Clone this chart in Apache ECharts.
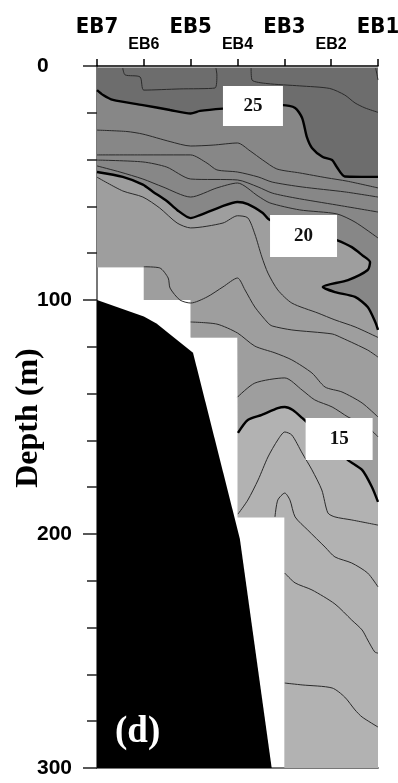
<!DOCTYPE html>
<html>
<head>
<meta charset="utf-8">
<script src="https://cdn.jsdelivr.net/npm/echarts@6/dist/echarts.min.js"></script>
<style>
  html, body { margin: 0; padding: 0; background: #fff; }
  #chart { width: 398px; height: 783px; }
</style>
</head>
<body>
<div id="chart"></div>
<script>
// stations along the section (x = station index), depth in metres
const stations = ['EB7', 'EB6', 'EB5', 'EB4', 'EB3', 'EB2', 'EB1'];

// where observations exist (stepped by station) and the sea floor
const dataRegion = [[0, 0.8], [6, 0.8], [6, 300], [4, 300], [4, 193], [3, 193], [3, 116], [2, 116], [2, 100], [1, 100], [1, 86], [0, 86]];
const seaFloor = [[0, 100], [1, 107], [1.27, 110], [2.05, 122.5], [3.05, 202], [3.73, 300], [0, 300]];

const c26a = [[0.55, 0.9], [0.6, 3.8], [0.92, 4.7], [1.0, 10.3], [1.77, 9.8], [2.52, 9.4], [2.56, 3.8], [2.54, 0.9]];
const c26b = [[3.29, 0.9], [3.31, 6.0], [3.63, 7.5], [4.33, 8.5], [4.97, 9.6], [5.29, 12.4], [5.51, 15.8], [5.72, 17.9], [6.0, 19.8]];
const c26c = [[5.95, 0.9], [5.98, 3.8], [6.0, 6.0]];
const c25 = [[0, 10.3], [0.13, 12.4], [0.34, 14.5], [0.98, 16.7], [1.56, 18.8], [2.0, 20.3], [2.2, 19.2], [2.69, 18.2], [3.3, 17.5], [3.97, 16.7], [4.23, 17.9], [4.38, 22.2], [4.48, 30.3], [4.59, 35], [4.82, 38.9], [5.02, 40.2], [5.12, 43.2], [5.29, 47.2], [6.0, 47.4]];
const c24 = [[0, 27.4], [0.64, 28], [0.98, 29.1], [1.56, 32.3], [2.0, 34.2], [2.48, 33.8], [3.0, 32.9], [3.27, 36.3], [3.54, 40.2], [3.84, 44], [4.33, 45.7], [4.91, 47.8], [5.34, 49.2], [6.0, 52.1]];
const c23 = [[0, 38], [0.98, 38], [2.0, 38], [2.35, 41.5], [2.56, 44.4], [3.0, 45.3], [3.44, 47.4], [3.74, 49.6], [4.38, 51.7], [5.29, 53.8], [6.0, 56]];
const c22 = [[0, 40.2], [0.98, 41], [1.49, 43.2], [2.0, 48.3], [3.0, 48.7], [3.44, 51.7], [3.74, 54.3], [4.23, 56.4], [5.12, 59.4], [6.0, 62.4]];
const c21 = [[0, 42.7], [0.49, 45.3], [0.98, 48.3], [1.41, 51.7], [2.0, 56], [2.56, 52.1], [3.0, 50], [3.44, 55.6], [3.69, 58.5], [4.33, 61.5], [5.12, 63.2], [5.51, 66.7], [6.0, 73.5]];
const c20 = [[0, 45.3], [0.55, 47.4], [0.98, 50.7], [1.2, 53.8], [1.49, 57.7], [1.71, 61.5], [2.0, 65], [2.2, 63.7], [2.63, 60.3], [3.0, 58.1], [3.22, 59], [3.54, 62.8], [3.69, 65.8], [4.4, 69.2], [5.12, 74.4], [5.44, 77.4], [5.66, 80.8], [5.83, 83.8], [5.78, 87.2], [5.36, 91.5], [4.82, 94.4], [5.08, 96.6], [5.51, 98.7], [5.78, 103], [5.95, 109.8], [6.0, 112.8]];
const c19 = [[0, 47.5], [0.55, 53.4], [0.98, 56], [1.34, 60.7], [1.71, 67.1], [2.0, 69.2], [2.69, 67.1], [3.0, 64], [3.22, 64.9], [3.37, 71.8], [3.52, 81.6], [3.65, 88.5], [3.86, 95.7], [4.16, 101.3], [4.72, 105.6], [5.08, 108.5], [5.51, 111.5], [6.0, 116]];
const c18 = [[1.0, 85.8], [1.34, 86.3], [1.52, 90.6], [1.56, 94.9], [1.77, 100], [2.0, 101.3], [2.35, 98.7], [2.69, 94.4], [3.0, 90.6], [3.16, 95.7], [3.37, 103], [3.65, 109.8], [3.74, 111.1], [4.16, 112.8], [5.02, 114.5], [5.23, 116.2], [5.78, 121.4], [6.0, 124.4]];
const c17 = [[2.0, 109.4], [2.56, 110.3], [3.0, 114.1], [3.37, 119.7], [3.8, 122.6], [4.16, 125.6], [4.59, 131.2], [4.87, 137.2], [5.23, 139.3], [5.66, 144], [6.0, 150]];
const c16 = [[3.0, 141.5], [3.37, 135.5], [4.01, 133.3], [4.38, 138.5], [4.65, 142.7], [5.02, 145.7], [5.36, 150], [5.78, 154.3], [6.0, 158.5]];
const c15 = [[3.01, 156.8], [3.22, 151.3], [3.52, 149.1], [3.86, 146.2], [4.01, 145.7], [4.18, 147], [4.38, 150.4], [4.9, 160], [5.36, 168.4], [5.66, 172.6], [5.87, 179.9], [6.0, 186.3]];
const c14 = [[3.01, 191.5], [3.22, 185.5], [3.44, 176.9], [3.65, 167.1], [3.86, 159.8], [4.01, 156.4], [4.16, 157.7], [4.38, 165.4], [4.59, 172.6], [4.8, 181.2], [4.93, 191], [5.08, 192.7], [5.44, 194], [6.0, 196.2]];
const c13 = [[3.8, 192.7], [3.86, 185.5], [4.01, 182.5], [4.12, 185.5], [4.23, 192.7], [4.5, 198.3], [4.87, 205.6], [5.08, 209.8], [5.44, 212.4], [5.78, 216.7], [6.0, 222.6]];
const c12 = [[4.01, 216.7], [4.23, 220.9], [4.59, 223.9], [5.08, 229.9], [5.44, 236.8], [5.66, 241], [5.78, 245.3], [5.93, 250.4], [6.0, 250.9]];
const c11 = [[4.01, 263.7], [4.38, 264.5], [5.02, 265.8], [5.29, 269.7], [5.51, 275.2], [5.66, 278.2], [6.0, 282.5]];

// labelled isotherms
const labelText = ['25', '20', '15'];
const labelPos = [[3.33, 17.1], [4.41, 72.6], [5.17, 159.4]];

const thinLines = [c26a, c26b, c26c, c24, c23, c22, c21, c19, c18, c17, c16, c14, c13, c12, c11];
const thickLines = [c25, c20, c15];

const maskSteps = [[3, 116], [2, 116], [2, 100], [1, 100], [1, 86], [0, 86]];
const surface = [[0, 0.8], [6, 0.8]];
const above15 = surface.concat(c15.slice().reverse(), maskSteps);
const above20 = surface.concat(c20.slice().reverse());
const above25 = surface.concat(c25.slice().reverse());

function area(points, color, z) {
  return {
    type: 'custom',
    silent: true,
    z: z,
    data: [[0, 0]],
    renderItem: function (params, api) {
      return {
        type: 'polygon',
        shape: { points: points.map(function (p) { return api.coord(p); }) },
        style: { fill: color }
      };
    }
  };
}

function contour(pts, thick) {
  return {
    type: 'line',
    data: pts,
    symbol: 'none',
    smooth: 0.25,
    silent: true,
    z: 6,
    lineStyle: { color: thick ? '#000' : '#2a2a2a', width: thick ? 2.4 : 1 }
  };
}

const series = [
  area(dataRegion, '#b2b2b2', 1),
  area(above15, '#9e9e9e', 2),
  area(above20, '#878787', 3),
  area(above25, '#6d6d6d', 4),
  area(seaFloor, '#000', 5)
];
thinLines.forEach(function (l) { series.push(contour(l, false)); });
thickLines.forEach(function (l) { series.push(contour(l, true)); });
series.push({
  type: 'scatter',
  silent: true,
  z: 8,
  symbol: 'rect',
  data: labelPos.map(function (p, i) {
    return { value: p, name: labelText[i], symbolSize: i === 0 ? [60, 40] : [67, 42] };
  }),
  itemStyle: { color: '#fff', opacity: 1 },
  label: {
    show: true,
    position: 'inside',
    formatter: '{b}',
    color: '#111',
    fontFamily: 'Liberation Serif',
    fontWeight: 'bold',
    fontSize: 19
  }
});

const chart = echarts.init(document.getElementById('chart'));
chart.setOption({
  animation: false,
  backgroundColor: '#fff',
  grid: { left: 97, right: 20, top: 66, bottom: 15, outerBoundsMode: 'none' },
  xAxis: [
    {
      type: 'value', position: 'top', min: 0, max: 6, interval: 2,
      axisLine: { lineStyle: { color: '#000', width: 1.5 } },
      axisTick: { show: false },
      splitLine: { show: false },
      axisLabel: {
        margin: 28,
        formatter: function (v) { return stations[v]; },
        color: '#000', fontFamily: '"DejaVu Sans Condensed", "Liberation Sans"', fontWeight: 'bold', fontSize: 22
      }
    },
    {
      type: 'value', position: 'top', min: 0, max: 6, interval: 1,
      axisLine: { show: false },
      axisTick: { show: true, length: 7, lineStyle: { color: '#000', width: 1.5 } },
      splitLine: { show: false },
      axisLabel: {
        margin: 13,
        formatter: function (v) { return v % 2 === 1 ? stations[v] : ''; },
        color: '#000', fontFamily: 'Liberation Sans', fontWeight: 'bold', fontSize: 16
      }
    },
    {
      type: 'value', position: 'bottom', min: 0, max: 6,
      axisLine: { lineStyle: { color: '#777', width: 2 } },
      axisTick: { show: false }, axisLabel: { show: false }, splitLine: { show: false }
    }
  ],
  yAxis: [
    {
      type: 'value', inverse: true, min: 0, max: 300, interval: 100,
      axisLine: { lineStyle: { color: '#666', width: 2 } },
      axisTick: { length: 14, lineStyle: { color: '#222', width: 1.5 } },
      minorTick: { show: true, splitNumber: 5, length: 10, lineStyle: { color: '#222', width: 1.5 } },
      splitLine: { show: false },
      axisLabel: {
        margin: 60, align: 'left',
        color: '#000', fontFamily: 'Liberation Sans', fontWeight: 'bold', fontSize: 21
      }
    },
    {
      type: 'value', inverse: true, min: 0, max: 300, position: 'right',
      axisLine: { show: true, lineStyle: { color: '#777', width: 2 } },
      axisTick: { show: false }, axisLabel: { show: false }, splitLine: { show: false }
    }
  ],
  graphic: [
    {
      type: 'text', x: 29, y: 418, rotation: Math.PI / 2, z: 20,
      style: { text: 'Depth (m)', fill: '#000', font: 'bold 32px "Liberation Serif"', align: 'center', verticalAlign: 'middle' }
    },
    {
      type: 'text', left: 115, top: 714, z: 20,
      style: { text: '(d)', fill: '#fff', font: 'bold 37px "Liberation Serif"' }
    }
  ],
  series: series
});
</script>
</body>
</html>
